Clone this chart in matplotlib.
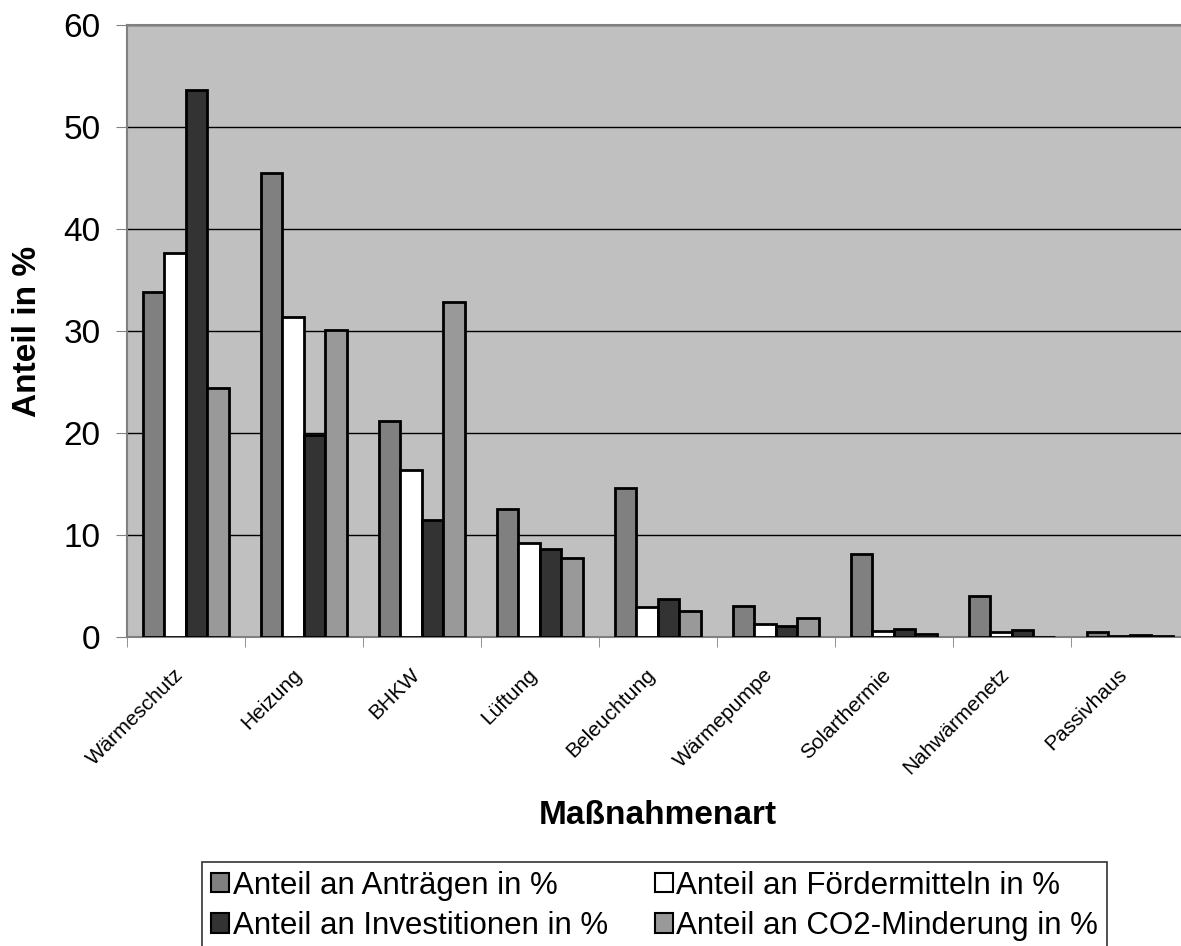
import numpy as np
import matplotlib
matplotlib.use("Agg")
from matplotlib import pyplot as plt
from matplotlib.transforms import ScaledTranslation

plt.rcParams['font.family'] = ['Liberation Sans', 'DejaVu Sans']

categories = ['Wärmeschutz', 'Heizung', 'BHKW', 'Lüftung', 'Beleuchtung',
              'Wärmepumpe', 'Solarthermie', 'Nahwärmenetz', 'Passivhaus']
antraege = [33.8, 45.5, 21.2, 12.6, 14.6, 3.0, 8.1, 4.0, 0.5]
foerdermittel = [37.6, 31.4, 16.4, 9.2, 2.9, 1.3, 0.6, 0.5, 0.1]
investitionen = [53.6, 19.8, 11.5, 8.6, 3.7, 1.1, 0.8, 0.7, 0.2]
co2 = [24.4, 30.1, 32.8, 7.7, 2.6, 1.9, 0.3, 0.0, 0.1]

series = [
    ('Anteil an Anträgen in %', antraege, '#808080'),
    ('Anteil an Fördermitteln in %', foerdermittel, '#ffffff'),
    ('Anteil an Investitionen in %', investitionen, '#333333'),
    ('Anteil an CO2-Minderung in %', co2, '#999999'),
]

fig = plt.figure(figsize=(11.81, 9.46), dpi=100)
ax = fig.add_axes([0.1075, 0.3266, 0.899, 0.647])
ax.set_facecolor('#c0c0c0')

x = np.arange(len(categories))
w = 0.182
bars = {}
for i, (name, vals, col) in enumerate(series):
    bars[name] = ax.bar(x + (i - 1.5) * w, vals, w, color=col,
                        edgecolor='black', linewidth=2, zorder=3)

ax.set_xlim(-0.5, len(categories) - 0.5)
ax.set_ylim(0, 60)
ax.set_yticks(range(0, 61, 10))
ax.yaxis.grid(True, color='black', linewidth=1, zorder=1)
ax.tick_params(axis='y', labelsize=24, length=8, color='#808080', pad=11)

ax.set_xticks(x)
ax.set_xticklabels(categories, rotation=45, ha='right', va='center',
                   rotation_mode='anchor', fontsize=15)
ax.set_xticks(np.arange(-0.5, len(categories)), minor=True)
ax.tick_params(axis='x', which='major', length=0, pad=25)
ax.tick_params(axis='x', which='minor', length=7, color='#808080')
shift = ScaledTranslation(-0.055, 0, fig.dpi_scale_trans)
for lab in ax.get_xticklabels():
    lab.set_transform(lab.get_transform() + shift)

for s in ['left', 'top', 'bottom', 'right']:
    ax.spines[s].set_color('#808080')
    ax.spines[s].set_linewidth(1.5)

ax.set_ylabel('Anteil in %', fontsize=24, fontweight='bold', va='center')
ax.yaxis.set_label_coords(-0.094, 0.5)
ax.set_xlabel('Maßnahmenart', fontsize=24, fontweight='bold', va='top')
ax.xaxis.set_label_coords(0.5, -0.267)

# Excel legend: two equal-width columns, filled row by row
order = [series[0][0], series[2][0], series[1][0], series[3][0]]
leg = fig.legend([bars[n] for n in order], order, loc='upper left',
                 bbox_to_anchor=(202 / 1181, 1 - 862 / 946), ncol=2, fontsize=22.5,
                 frameon=True, fancybox=False, edgecolor='black',
                 handlelength=0.58, handleheight=0.58, handletextpad=0.12,
                 columnspacing=1.5, labelspacing=0.33, borderpad=0.28,
                 borderaxespad=0)
leg.get_frame().set_linewidth(1.2)
for h in leg.legend_handles:
    h.set_linewidth(1.5)

fig.savefig('out.png', dpi=100, facecolor='white')
